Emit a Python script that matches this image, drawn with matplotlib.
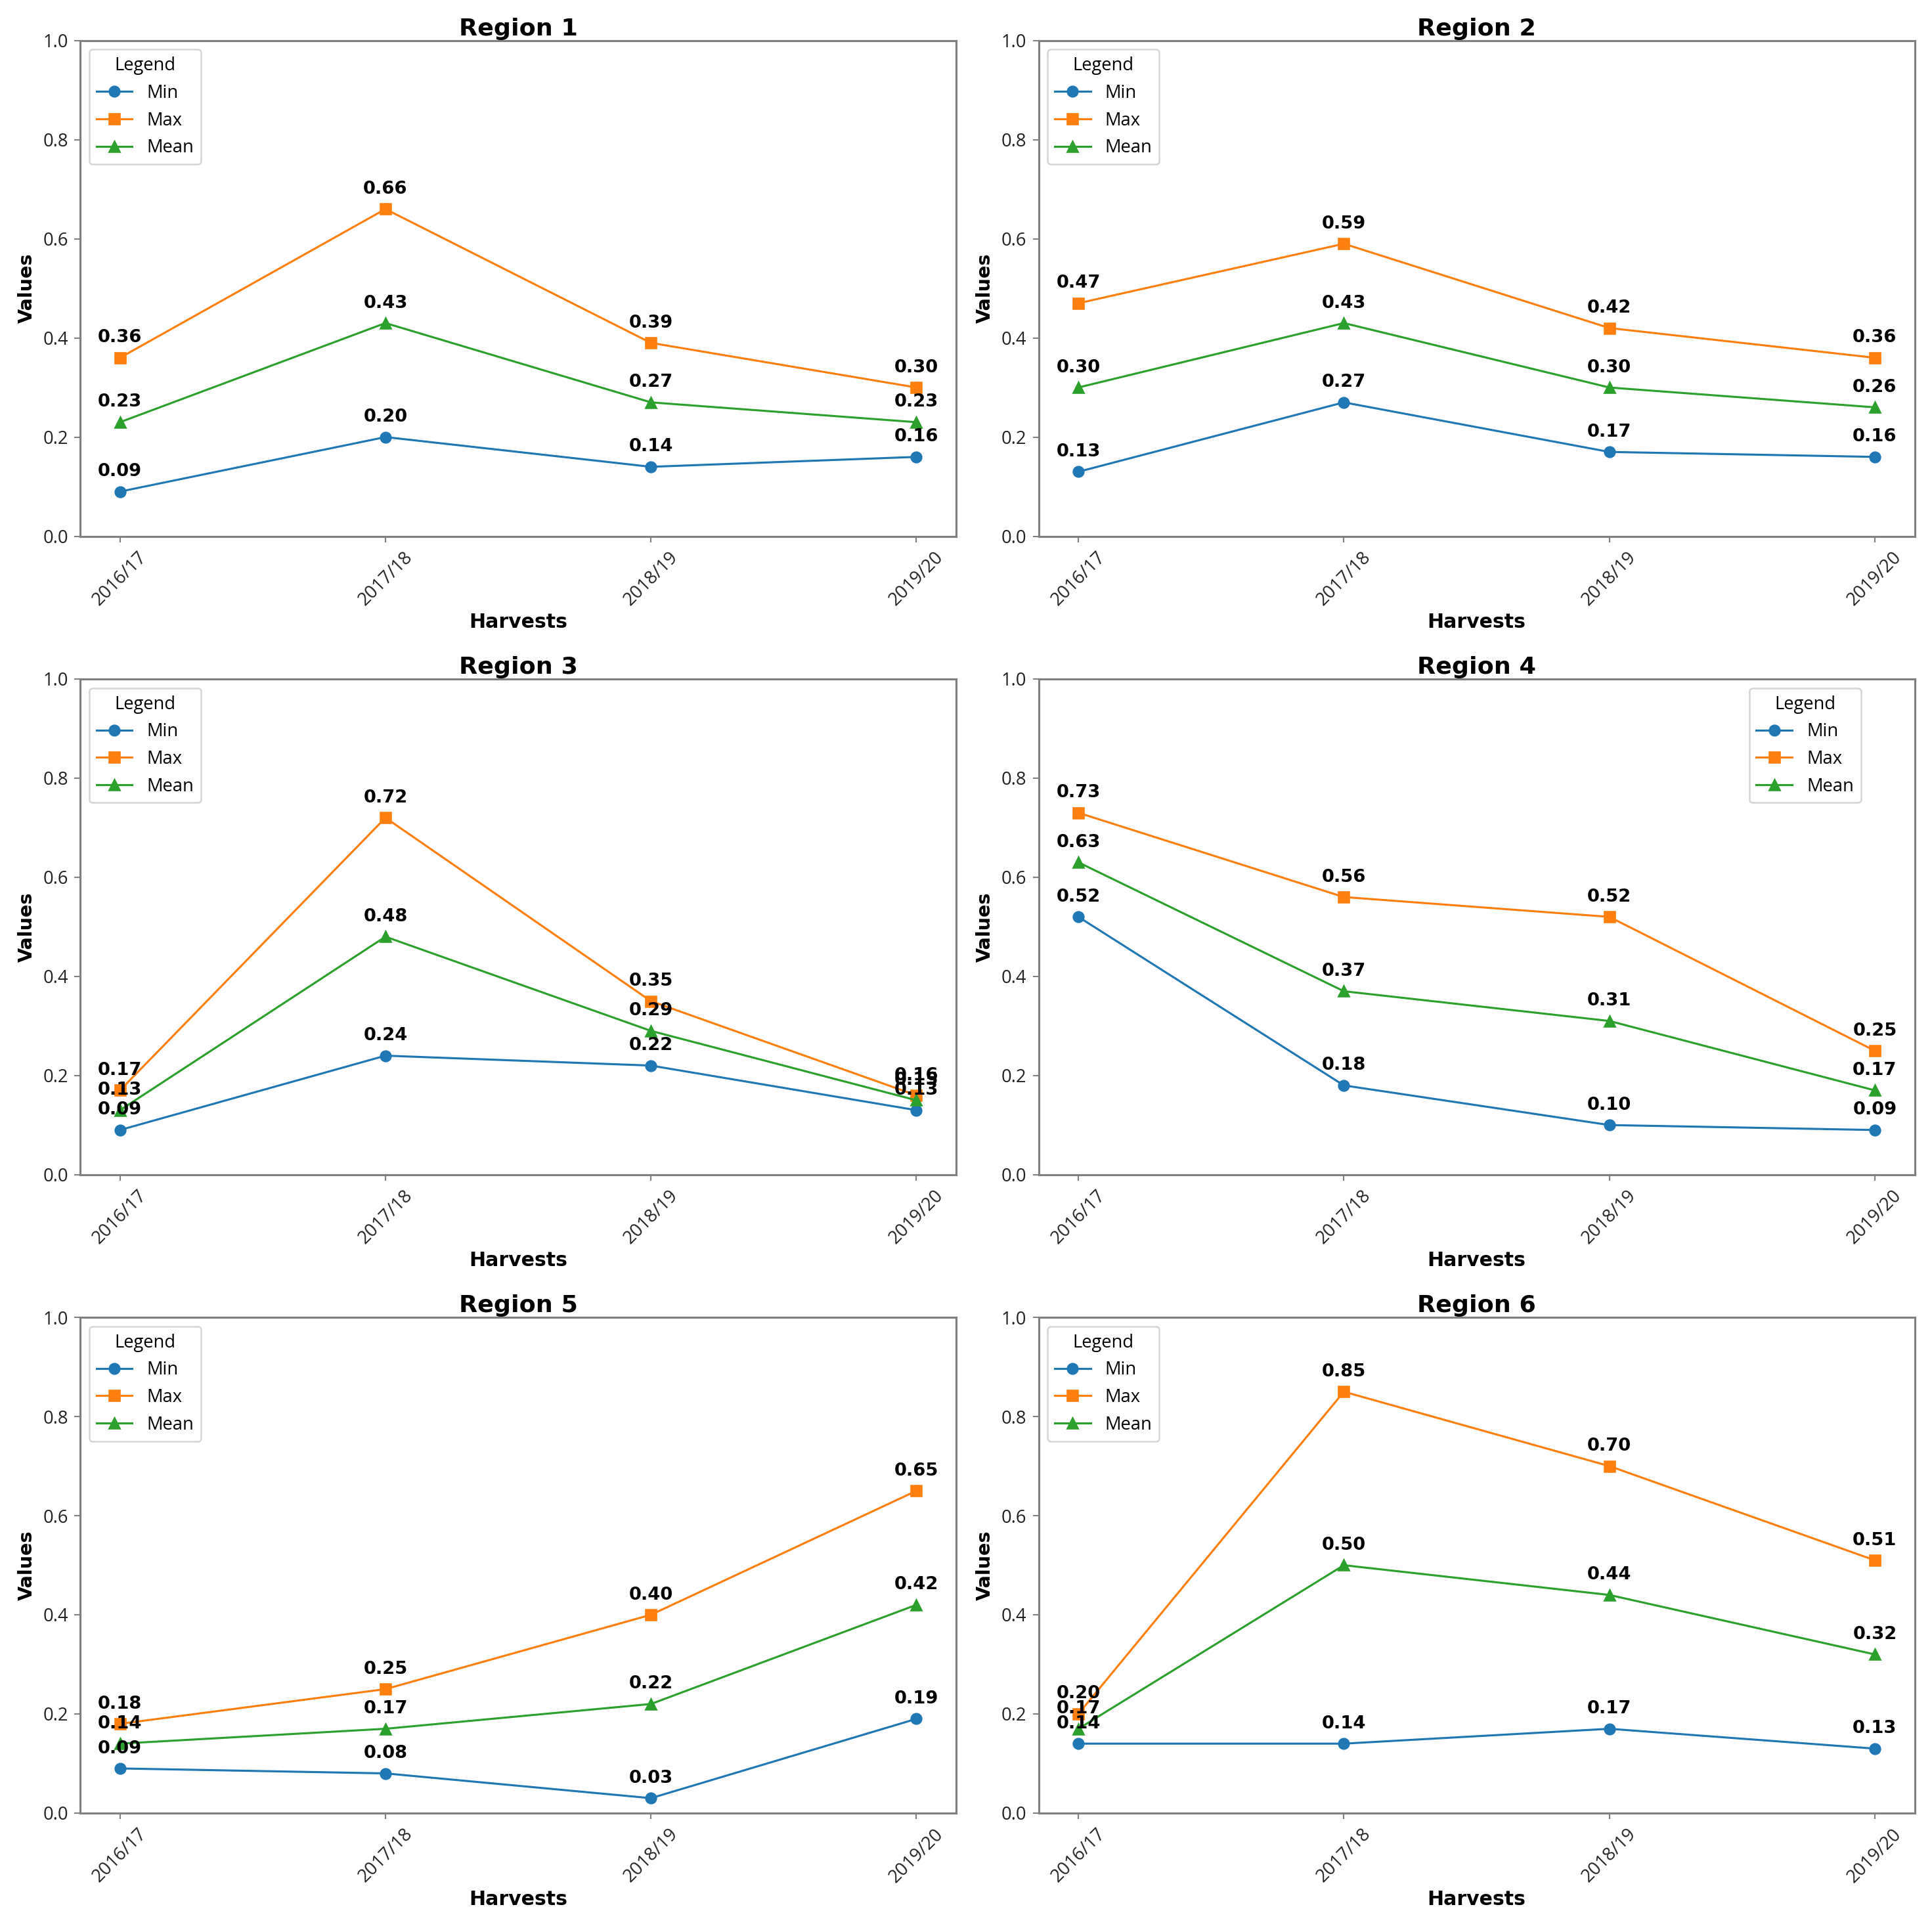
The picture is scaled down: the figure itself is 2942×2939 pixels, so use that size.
import numpy as np
import matplotlib.pyplot as plt

harvests = ['2016/17', '2017/18', '2018/19', '2019/20']

r1_min = [0.09, 0.20, 0.14, 0.16]
r1_max = [0.36, 0.66, 0.39, 0.30]
r1_mean = [0.23, 0.43, 0.27, 0.23]

r2_min = [0.13, 0.27, 0.17, 0.16]
r2_max = [0.47, 0.59, 0.42, 0.36]
r2_mean = [0.30, 0.43, 0.30, 0.26]

r3_min = [0.09, 0.24, 0.22, 0.13]
r3_max = [0.17, 0.72, 0.35, 0.16]
r3_mean = [0.13, 0.48, 0.29, 0.15]

r4_min = [0.52, 0.18, 0.10, 0.09]
r4_max = [0.73, 0.56, 0.52, 0.25]
r4_mean = [0.63, 0.37, 0.31, 0.17]

r5_min = [0.09, 0.08, 0.03, 0.19]
r5_max = [0.18, 0.25, 0.40, 0.65]
r5_mean = [0.14, 0.17, 0.22, 0.42]

r6_min = [0.14, 0.14, 0.17, 0.13]
r6_max = [0.20, 0.85, 0.70, 0.51]
r6_mean = [0.17, 0.50, 0.44, 0.32]

regions = [
    ('Region 1', r1_min, r1_max, r1_mean),
    ('Region 2', r2_min, r2_max, r2_mean),
    ('Region 3', r3_min, r3_max, r3_mean),
    ('Region 4', r4_min, r4_max, r4_mean),
    ('Region 5', r5_min, r5_max, r5_mean),
    ('Region 6', r6_min, r6_max, r6_mean),
]

spine_col = '#808080'
tick_font = ['Open Sans', 'DejaVu Sans']

fig, axes = plt.subplots(3, 2, figsize=(2942 / 187.5, 2939 / 187.5), dpi=187.5)
fig.subplots_adjust(left=0.0415, right=0.991, top=0.979, bottom=0.0606,
                    wspace=0.094, hspace=0.288)

x = np.arange(len(harvests))
for ax, (name, mn, mx, me) in zip(axes.flat, regions):
    for vals, lab, mk, col in [(mn, 'Min', 'o', 'tab:blue'),
                               (mx, 'Max', 's', 'tab:orange'),
                               (me, 'Mean', '^', 'tab:green')]:
        ax.plot(x, vals, marker=mk, color=col, label=lab, lw=1.2, ms=6)
        for xi, v in zip(x, vals):
            ax.annotate(f'{v:.2f}', (xi, v), xytext=(0, 9), textcoords='offset points',
                        ha='center', fontsize=10.5, fontweight='bold')
    ax.set_ylim(0, 1.0)
    ax.set_xticks(x)
    ax.set_xticklabels(harvests, rotation=45, family=tick_font, fontsize=10.5)
    ax.set_yticks(np.arange(0, 1.01, 0.2))
    ax.set_yticklabels([f'{t:.1f}' for t in np.arange(0, 1.01, 0.2)],
                       family=tick_font, fontsize=10.5)
    ax.tick_params(colors='#222222', color=spine_col)
    for s in ax.spines.values():
        s.set_color(spine_col)
        s.set_linewidth(1.2)
    ax.set_title(name, fontsize=14, fontweight='bold', pad=3)
    ax.set_xlabel('Harvests', fontsize=11.5, fontweight='bold', labelpad=2)
    ax.set_ylabel('Values', fontsize=11, fontweight='bold')
    leg_kw = dict(title='Legend', prop={'family': tick_font, 'size': 10.5},
                  title_fontproperties={'family': tick_font, 'size': 10.5})
    if name == 'Region 4':
        ax.legend(loc='upper right', bbox_to_anchor=(0.949, 1.0), **leg_kw)
    else:
        ax.legend(loc='upper left', **leg_kw)

fig.savefig('out.png', dpi=187.5)
